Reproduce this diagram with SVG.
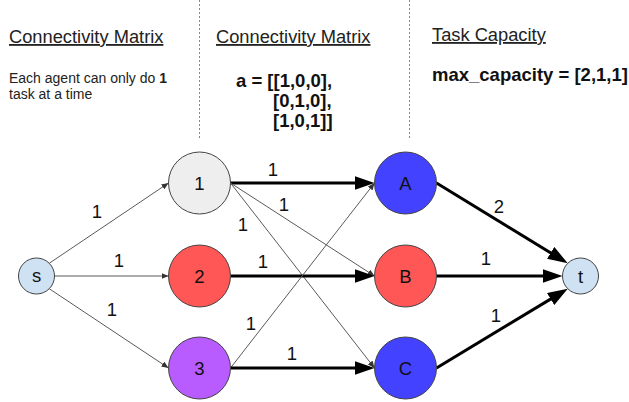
<svg xmlns="http://www.w3.org/2000/svg" width="629" height="402" viewBox="0 0 629 402">
  <style>
    text { font-family: "Liberation Sans", Arial, sans-serif; fill: #111; }
    .hdr { font-size: 18.3px; text-decoration: underline; fill: #222; }
    .note { font-size: 14px; fill: #222; }
    .code { font-size: 18.5px; font-weight: bold; }
    .lbl { font-size: 18.5px; text-anchor: middle; }
    .node { stroke: #444; stroke-width: 1; }
    .thin { stroke: #5a5a5a; stroke-width: 1; fill: none; marker-end: url(#arrowSmall); }
    .thick { stroke: #000; stroke-width: 3; fill: none; marker-end: url(#arrowBig); }
    .divider { stroke: #888; stroke-width: 1; stroke-dasharray: 2 2; }
  </style>
  <defs>
    <marker id="arrowSmall" markerUnits="userSpaceOnUse" markerWidth="8" markerHeight="6" refX="7" refY="3" orient="auto">
      <path d="M0,0 L7,3 L0,6 z" fill="#333"/>
    </marker>
    <marker id="arrowBig" markerUnits="userSpaceOnUse" markerWidth="20" markerHeight="14" refX="10" refY="7" orient="auto">
      <path d="M0,0 L20,7 L0,14 z" fill="#000"/>
    </marker>
  </defs>

  <rect width="629" height="402" fill="#fff"/>

  <!-- column dividers -->
  <line class="divider" x1="199.5" y1="0" x2="199.5" y2="138"/>
  <line class="divider" x1="409.5" y1="0" x2="409.5" y2="138"/>

  <!-- header texts -->
  <g id="col-agents">
    <text class="hdr" x="9" y="43">Connectivity Matrix</text>
    <text class="note" x="9" y="83">Each agent can only do <tspan font-weight="bold">1</tspan></text>
    <text class="note" x="9" y="99">task at a time</text>
  </g>
  <g id="col-matrix">
    <text class="hdr" x="216" y="43">Connectivity Matrix</text>
    <text class="code" x="236" y="87">a = [[1,0,0],</text>
    <text class="code" x="273" y="107">[0,1,0],</text>
    <text class="code" x="273" y="127">[1,0,1]]</text>
  </g>
  <g id="col-capacity">
    <text class="hdr" x="432" y="41">Task Capacity</text>
    <text class="code" x="432" y="81">max_capacity = [2,1,1]</text>
  </g>

  <!-- connectors -->
  <g id="edges">
    <line class="thin" x1="49.2" y1="263.3" x2="168.5" y2="183"/>
    <line class="thin" x1="54.5" y1="276" x2="168.5" y2="276"/>
    <line class="thin" x1="49.2" y1="288.7" x2="168.5" y2="368"/>

    <line class="thick" x1="230.5" y1="183" x2="364.5" y2="183"/>
    <line class="thin" x1="230.5" y1="183" x2="374.5" y2="276"/>
    <line class="thin" x1="230.5" y1="183" x2="374.5" y2="368"/>
    <line class="thick" x1="230.5" y1="276" x2="364.5" y2="276"/>
    <line class="thin" x1="230.5" y1="368" x2="374.5" y2="183"/>
    <line class="thick" x1="230.5" y1="368" x2="364.5" y2="368"/>

    <line class="thick" x1="436.5" y1="183" x2="559.2" y2="258.1"/>
    <line class="thick" x1="436.5" y1="276" x2="552.5" y2="276"/>
    <line class="thick" x1="436.5" y1="368" x2="559.2" y2="293.9"/>

    <text class="lbl" x="97" y="217.5">1</text>
    <text class="lbl" x="119" y="267">1</text>
    <text class="lbl" x="112" y="316">1</text>
    <text class="lbl" x="273" y="175.5">1</text>
    <text class="lbl" x="284" y="211">1</text>
    <text class="lbl" x="243" y="230.5">1</text>
    <text class="lbl" x="263" y="267.5">1</text>
    <text class="lbl" x="251" y="329.5">1</text>
    <text class="lbl" x="292" y="359.5">1</text>
    <text class="lbl" x="499" y="212.5">2</text>
    <text class="lbl" x="486" y="264.5">1</text>
    <text class="lbl" x="496" y="321.5">1</text>
  </g>

  <!-- nodes -->
  <g id="node-s">
    <circle class="node" cx="36.5" cy="276" r="18" fill="#cfe2f3"/>
    <text class="lbl" x="36.5" y="282">s</text>
  </g>
  <g id="node-1">
    <circle class="node" cx="199.5" cy="183" r="31" fill="#eeeeee"/>
    <text class="lbl" x="199.5" y="189.6">1</text>
  </g>
  <g id="node-2">
    <circle class="node" cx="199.5" cy="276" r="31" fill="#ff5656"/>
    <text class="lbl" x="199.5" y="282.6">2</text>
  </g>
  <g id="node-3">
    <circle class="node" cx="199.5" cy="368" r="31" fill="#b95cff"/>
    <text class="lbl" x="199.5" y="374.6">3</text>
  </g>
  <g id="node-A">
    <circle class="node" cx="405.5" cy="183" r="31" fill="#4343ff"/>
    <text class="lbl" x="405.5" y="189.6">A</text>
  </g>
  <g id="node-B">
    <circle class="node" cx="405.5" cy="276" r="31" fill="#ff5656"/>
    <text class="lbl" x="405.5" y="282.6">B</text>
  </g>
  <g id="node-C">
    <circle class="node" cx="405.5" cy="368" r="31" fill="#4343ff"/>
    <text class="lbl" x="405.5" y="374.6">C</text>
  </g>
  <g id="node-t">
    <circle class="node" cx="580.5" cy="276" r="18" fill="#cfe2f3"/>
    <text class="lbl" x="580.5" y="282.6">t</text>
  </g>
</svg>
